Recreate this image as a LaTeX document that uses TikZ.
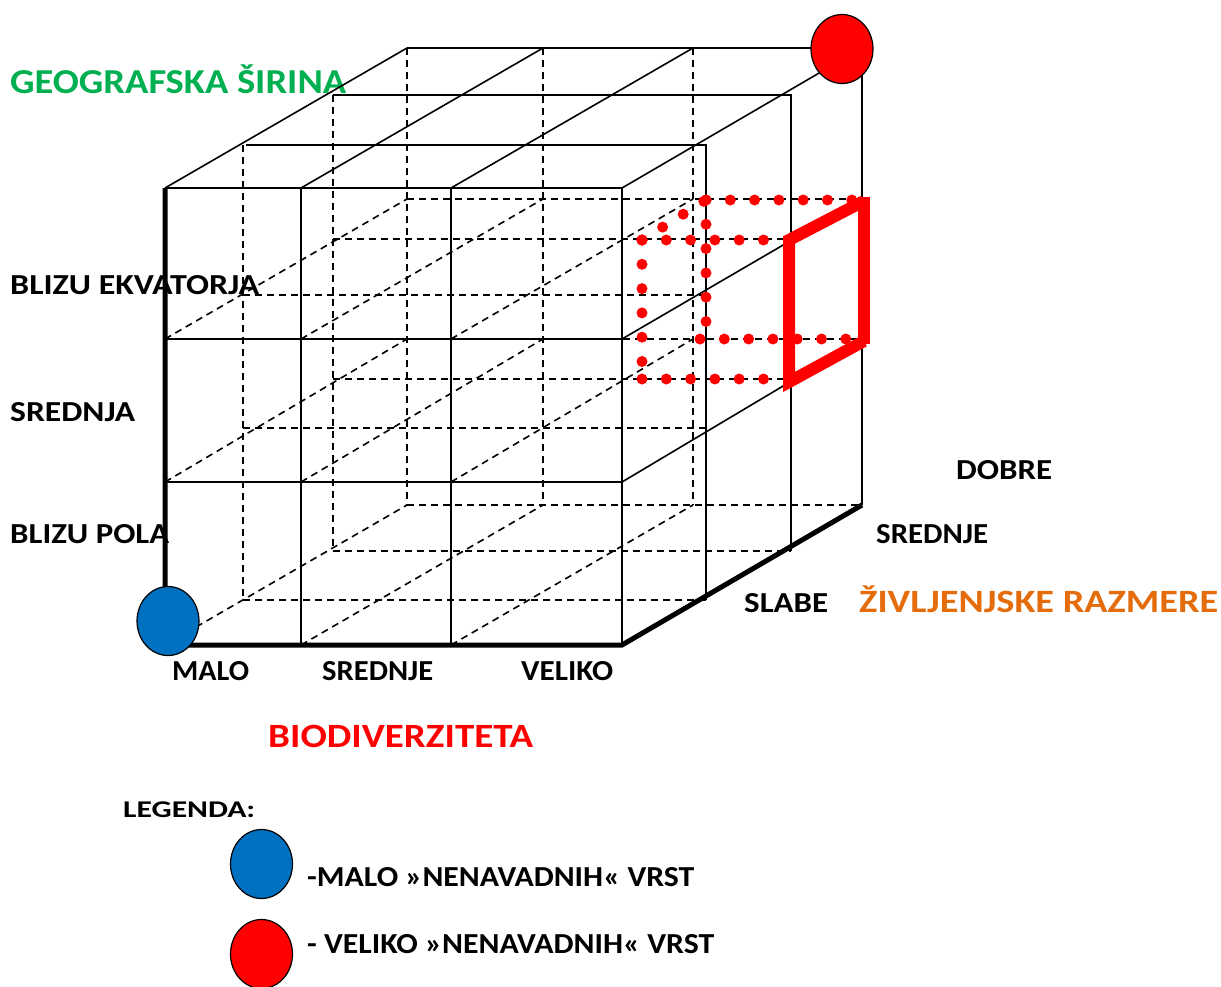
\documentclass[tikz,border=0pt]{standalone}
\usepackage{fontspec}
\setmainfont{Carlito}
\usetikzlibrary{shapes.geometric}
\definecolor{latgreen}{HTML}{00B050}
\definecolor{bioRed}{HTML}{FF0000}
\definecolor{lifeorange}{HTML}{E46C0A}
\definecolor{fewblue}{HTML}{0070C0}
% set a label to a given width, keeping its height
\newcommand{\fitto}[2]{\resizebox{#1}{\height}{#2}}

\begin{document}
\begin{tikzpicture}[x=1pt,y=-1pt,
  edge/.style={line width=1.6pt, black},
  hidden/.style={line width=1.6pt, black, dash pattern=on 7pt off 5pt},
  axisline/.style={line width=5pt, black, line join=miter},
  reddots/.style={bioRed, line width=11pt, line cap=round, dash pattern=on 0pt off 24.3pt},
  redframe/.style={bioRed, line width=12pt, line join=miter},
  marker/.style={ellipse, draw=black, line width=1.2pt, inner sep=0pt,
                 minimum width=62pt, minimum height=69pt},
  lbl/.style={inner sep=0pt, anchor=base west, font=\bfseries\fontsize{29}{34}\selectfont},
  title/.style={lbl, font=\bfseries\fontsize{35}{40}\selectfont}
]
\useasboundingbox (0,0) rectangle (1221,986);

% axis labels (drawn first, the cube lines run over them)
\node[title, text=latgreen] (lat) at (10,93) {\fitto{336pt}{GEOGRAFSKA ŠIRINA}};
\node[lbl] (eq) at (10,294) {\fitto{249pt}{BLIZU EKVATORJA}};
\node[lbl] (mid) at (10,421) {\fitto{125pt}{SREDNJA}};
\node[lbl] (pole) at (10,543) {\fitto{159pt}{BLIZU POLA}};
\node[lbl] (lo) at (172,680) {\fitto{77pt}{MALO}};
\node[lbl] (me) at (322,680) {\fitto{111pt}{SREDNJE}};
\node[lbl] (hi) at (521,680) {\fitto{92pt}{VELIKO}};
\node[title, text=bioRed, font=\bfseries\fontsize{34}{40}\selectfont] (bio) at (268,747) {\fitto{265pt}{BIODIVERZITETA}};
\node[lbl] (good) at (956,479) {\fitto{96pt}{DOBRE}};
\node[lbl] (avg) at (876,543) {\fitto{112pt}{SREDNJE}};
\node[lbl] (poor) at (744,612) {\fitto{84pt}{SLABE}};
\node[title, text=lifeorange, font=\bfseries\fontsize{32.5}{38}\selectfont] (life) at (859,612) {\fitto{359pt}{ŽIVLJENJSKE RAZMERE}};

% front face grid points f<col><row>
\foreach \xv [count=\i from 0] in {165,301,451,622}
  \foreach \yv [count=\j from 0] in {188,339,482,645}
    \coordinate (f\i\j) at (\xv,\yv);
% back face grid points b<col><row>
\foreach \xv [count=\i from 0] in {407,543,693,862}
  \foreach \yv [count=\j from 0] in {48,199,339,505}
    \coordinate (b\i\j) at (\xv,\yv);
% intermediate layers: left and right ends of each row line
\foreach \yv [count=\j from 0] in {145,295,428,600} {
  \coordinate (pL\j) at (243,\yv); \coordinate (pR\j) at (706,\yv);}
\foreach \yv [count=\j from 0] in {95,239,379,551} {
  \coordinate (qL\j) at (333,\yv); \coordinate (qR\j) at (791,\yv);}
\coordinate (pT) at (246,145);

% hidden depth lines
\foreach \i in {0,1,2}
  \foreach \j in {1,2,3}
    \draw[hidden] (f\i\j) -- (b\i\j);
% back face, hidden part
\foreach \j in {1,2,3} \draw[hidden] (b0\j) -- (b3\j);
\foreach \i in {0,1,2} \draw[hidden] (b\i0) -- (b\i3);
% intermediate layers, hidden part
\foreach \lay in {p,q} {
  \draw[hidden] (\lay L0) -- (\lay L3);
  \foreach \j in {1,2,3} \draw[hidden] (\lay L\j) -- (\lay R\j);
}

% top face and right face
\foreach \i in {0,...,3} \draw[edge] (f\i0) -- (b\i0);
\foreach \j in {1,2} \draw[edge] (f3\j) -- (b3\j);
\draw[edge] (pT) -- (pR0) -- (pR3);
\draw[edge] (qL0) -- (qR0) -- (qR3);
\draw[edge] (b00) -- (b30) -- (b33);

% front face
\draw[edge] (f00) -- (f30) -- (f33);
\foreach \j in {1,2} \draw[edge] (f0\j) -- (f3\j);
\foreach \i in {1,2} \draw[edge] (f\i0) -- (f\i3);
\draw[axisline] (f00) -- (f03) -- (f33) -- (b33);

% highlighted cell
\coordinate (cA) at (642,240); \coordinate (cB) at (787,240);
\coordinate (cC) at (642,379); \coordinate (cD) at (787,379);
\coordinate (cE) at (706,200); \coordinate (cF) at (862,200);
\coordinate (cG) at (706,339); \coordinate (cH) at (700,339);
\coordinate (cI) at (862,339);
\draw[reddots] (cA) -- (cB);
\draw[reddots] (cA) -- (cC);
\draw[reddots] (cC) -- (cD);
\draw[reddots] (cA) -- (cE);
\draw[reddots] (cE) -- (cF);
\draw[reddots] (cE) -- (cG);
\draw[reddots] (cH) -- (cI);
\coordinate (rA) at (789,240); \coordinate (rB) at (864,201);
\coordinate (rC) at (864,341); \coordinate (rD) at (789,382);
\coordinate (rBtop) at (864,197); \coordinate (rCbot) at (864,344);
\draw[redframe] (rB) -- (rA) -- (rD) -- (rC);
\draw[redframe] (rBtop) -- (rCbot);

% corner markers
\node[marker, fill=fewblue] (few) at (168,621) {};
\node[marker, fill=bioRed] (many) at (842,49) {};

% legend
\node[lbl, font=\bfseries\fontsize{24}{28}\selectfont] (leg) at (123,817) {\fitto{132pt}{LEGENDA:}};
\node[marker, fill=fewblue] (legfew) at (261.5,864) {};
\node[marker, fill=bioRed] (legmany) at (261.5,954) {};
\node[lbl] (legfewtxt) at (307,886) {\fitto{387pt}{-MALO »NENAVADNIH« VRST}};
\node[lbl] (legmanytxt) at (307,953) {\fitto{407pt}{- VELIKO »NENAVADNIH« VRST}};
\end{tikzpicture}
\end{document}
